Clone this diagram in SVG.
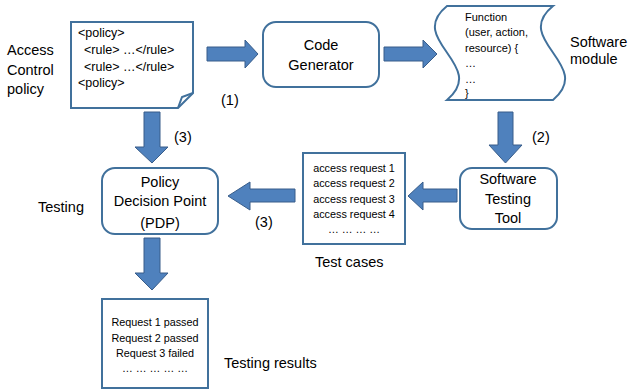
<svg xmlns="http://www.w3.org/2000/svg" width="629" height="390" viewBox="0 0 629 390">
<style>
text{font-family:"Liberation Sans",Arial,sans-serif;fill:#000}
.box{fill:#fff;stroke:#41719C;stroke-width:2}
.arr{fill:#4F81BD;stroke:#385D8A;stroke-width:1}
.lbl{font-size:14.5px}
.node{font-size:14.5px;text-anchor:middle}
.code{font-size:12.5px}
.small{font-size:11px}
.sm{font-size:10.8px;text-anchor:middle}
</style>
<rect width="629" height="390" fill="#fff"/>
<g id="labels">
<text class="lbl" x="7" y="55">Access</text>
<text class="lbl" x="7" y="75">Control</text>
<text class="lbl" x="7" y="94">policy</text>
<text class="lbl" x="570" y="47">Software</text>
<text class="lbl" x="570" y="64">module</text>
<text class="lbl" x="38" y="212">Testing</text>
<text class="lbl" x="315" y="267">Test cases</text>
<text class="lbl" x="224" y="368">Testing results</text>
<text class="lbl" x="221" y="105">(1)</text>
<text class="lbl" x="532" y="142">(2)</text>
<text class="lbl" x="174" y="142">(3)</text>
<text class="lbl" x="255" y="227">(3)</text>
</g>
<g id="connectors">
<path class="arr" d="M207,47 H245 V40 L258,54 L245,68 V61 H207 Z"/>
<path class="arr" d="M384,47 H423 V40 L437,54 L423,68 V61 H384 Z"/>
<path class="arr" d="M498,112 H513 V145 H522 L505.5,163 L489,145 H498 Z"/>
<path class="arr" d="M457,189 H423 V182 L408,196 L423,210 V202 H457 Z"/>
<path class="arr" d="M295,189 H250 V182 L228,196 L250,210 V202 H295 Z"/>
<path class="arr" d="M144,112 H160 V147 H168 L152,163 L135,147 H144 Z"/>
<path class="arr" d="M144,238 H160 V273 H168 L152,290 L135,273 H144 Z"/>
</g>
<g id="policy">
<path class="box" d="M71,22 H193 V93 L178,108 H71 Z"/>
<path d="M178,108 L182,97 L193,93" fill="none" stroke="#41719C" stroke-width="2"/>
<text class="code" x="78" y="37">&lt;policy&gt;</text>
<text class="code" x="84" y="54">&lt;rule&gt; …&lt;/rule&gt;</text>
<text class="code" x="84" y="71">&lt;rule&gt; …&lt;/rule&gt;</text>
<text class="code" x="78" y="87">&lt;policy&gt;</text>
</g>
<g id="codegen">
<rect class="box" x="263" y="22" width="116" height="65" rx="13"/>
<text class="node" x="321" y="50">Code</text>
<text class="node" x="321" y="70">Generator</text>
</g>
<g id="module">
<path class="box" d="M447,6 H553 C511,40 595,65 553,100 H447 C489,65 405,40 447,6 Z"/>
<text class="small" x="465" y="21">Function</text>
<text class="small" x="465" y="36">(user, action,</text>
<text class="small" x="465" y="52">resource) {</text>
<text class="small" x="465" y="67">…</text>
<text class="small" x="465" y="83">…</text>
<text class="small" x="465" y="97">}</text>
</g>
<g id="testtool">
<rect class="box" x="460" y="168" width="97" height="61" rx="12"/>
<text class="node" x="508" y="184">Software</text>
<text class="node" x="508" y="204">Testing</text>
<text class="node" x="508" y="223">Tool</text>
</g>
<g id="testcases">
<rect class="box" x="303" y="153" width="102" height="91"/>
<text class="sm" x="354" y="172">access request 1</text>
<text class="sm" x="354" y="187">access request 2</text>
<text class="sm" x="354" y="203">access request 3</text>
<text class="sm" x="354" y="218">access request 4</text>
<text class="sm" x="354" y="233">… … … …</text>
</g>
<g id="pdp">
<rect class="box" x="102" y="168" width="116" height="66" rx="13"/>
<text class="node" x="160" y="187">Policy</text>
<text class="node" x="160" y="206">Decision Point</text>
<text class="node" x="160" y="228">(PDP)</text>
</g>
<g id="results">
<rect class="box" x="102" y="299" width="106" height="89"/>
<text class="sm" x="155" y="326">Request 1 passed</text>
<text class="sm" x="155" y="342">Request 2 passed</text>
<text class="sm" x="155" y="357">Request 3 failed</text>
<text class="sm" x="155" y="372">… … … … …</text>
</g>
</svg>
